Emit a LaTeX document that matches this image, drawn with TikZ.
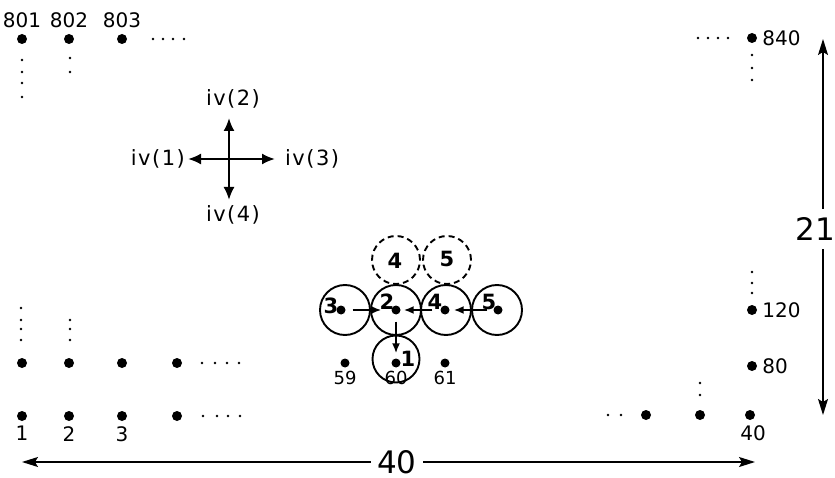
\documentclass[tikz,border=0pt]{standalone}
\usepackage{fontspec}
\setmainfont{DejaVu Sans}
\newfontfamily\ivfont[LetterSpace=7]{DejaVu Sans}
\usetikzlibrary{arrows.meta}
\usetikzlibrary{positioning}

\tikzset{
  site/.style={circle, fill=black, inner sep=0pt, minimum size=10pt},
  cell/.style={circle, draw=black, line width=1.9pt, inner sep=0pt, minimum size=50pt},
  ghost/.style={cell, minimum size=48pt, dash pattern=on 6pt off 4pt},
  num/.style={font=\fontsize{20}{22}\selectfont, inner sep=1pt},
  nabove/.style={label={[num, label distance=5pt]above:#1}},
  nbelow/.style={label={[num, label distance=4pt]below:#1}},
  nunder/.style={label={[num, font=\fontsize{18}{20}\selectfont, label distance=2pt]below:#1}},
  nright/.style={label={[num, label distance=4pt]right:#1}},
  cellnum/.style={font=\fontsize{21}{23}\selectfont\bfseries, inner sep=0pt},
  dir/.style={font=\fontsize{21}{23}\selectfont\ivfont, inner sep=0pt},
  dimlab/.style={font=\fontsize{31}{33}\selectfont, fill=white, inner xsep=6pt, inner ysep=0pt},
  tip/.style={line width=1.9pt, -{Latex[length=10pt, width=8pt]}},
  bigtip/.style={line width=2pt, -{Latex[length=13pt, width=11pt]}},
  dimline/.style={line width=1.3pt, {Stealth[length=16pt, width=10pt, inset=3pt]}-{Stealth[length=16pt, width=10pt, inset=3pt]}},
}

\begin{document}
\begin{tikzpicture}[x=1pt, y=-1pt]
\useasboundingbox (0,0) rectangle (835,478);

% lattice sites
\foreach \x/\n in {22/1, 69/2, 122/3} \node[site, nbelow=\n] (s\n) at (\x,416) {};
\node[site] (s4) at (177,416) {};
\node[site] (s38) at (646,415) {};
\node[site] (s39) at (700,415) {};
\node[site, label={[num, label distance=4pt, xshift=3pt]below:40}] (s40) at (750,415) {};
\foreach \x [count=\i from 41] in {22, 69, 122, 177} \node[site] (s\i) at (\x,363) {};
\foreach \x/\n in {345/59, 396/60, 445/61} \node[site, minimum size=9pt, nunder=\n] (s\n) at (\x,363) {};
\foreach \x/\n in {22/801, 69/802, 122/803} \node[site, nabove=\n] (s\n) at (\x,39) {};
\foreach \y/\n in {38/840, 310/120, 366/80} \node[site, nright=\n] (s\n) at (752,\y) {};

% dotted continuations
\foreach \x/\y in {153/39, 163/39, 173/39, 184/39, 22/60, 22/72, 22/83, 22/97, 70/58, 70/72,
  698/38, 708/38, 718/38, 728/38, 752/55, 752/68, 752/80, 752/272, 752/283, 752/293,
  700/383, 700/395, 608/415, 621/415, 202/363, 215/363, 227/363, 239/363,
  203/416, 217/416, 228/416, 240/416, 21/308, 21/320, 21/329, 21/340, 70/320, 70/329, 70/340}
  \fill (\x,\y) circle (1.4pt);

% particle and its neighbours
\foreach \x/\n in {341/99, 396/100, 445/101, 498/102} \node[site, minimum size=9pt] (s\n) at (\x,310) {};
\node[cell] (c3) at (345,310) {};
\node[cell] (c2) at (396,310) {};
\node[cell] (c4) at (446,310) {};
\node[cell] (c5) at (497,310) {};
\node[cell, minimum size=47pt] (c1) at (396,359) {};
\node[ghost] (g4) at (396,260) {};
\node[ghost] (g5) at (447,260) {};

\node[cellnum] (k3) at (331,306) {3};
\node[cellnum] (k2) at (387,302) {2};
\node[cellnum] (k4) at (435,302) {4};
\node[cellnum] (k5) at (489,302) {5};
\node[cellnum] (k1) at (408,359) {1};
\node[cellnum] (h4) at (395,261) {4};
\node[cellnum] (h5) at (447,259) {5};

\draw[tip, shorten <=7pt, shorten >=10pt] (s99) -- (s100);
\draw[tip, shorten <=8pt, shorten >=3pt] (s101) -- (s100);
\draw[tip, shorten <=6pt, shorten >=4pt] (s102) -- (s101);
\draw[tip, shorten <=7pt, shorten >=5pt] (s100) -- (s60);

% directions
\coordinate (o) at (229,159);
\node[dir, anchor=south] (iv2) at (233,108) {iv(2)};
\node[dir, anchor=east] (iv1) at (185,159) {iv(1)};
\node[dir, anchor=west] (iv3) at (285,159) {iv(3)};
\node[dir, anchor=north] (iv4) at (233,205) {iv(4)};
\draw[bigtip, shorten >=10pt] (o) -- (o |- iv2.south);
\draw[bigtip, shorten >=3pt] (o) -- (iv1);
\draw[bigtip, shorten >=10pt] (o) -- (iv3);
\draw[bigtip, shorten >=5pt] (o) -- (o |- iv4.north);

% extent of the lattice
\coordinate (wl) at (22,462);
\coordinate (wr) at (755,462);
\coordinate (ht) at (823,39);
\coordinate (hb) at (823,415);
\draw[dimline] (wl) -- (wr);
\draw[dimline] (hb) -- (ht);
\node[dimlab] (w) at (397,462) {40};
\node[dimlab, inner xsep=0pt, inner ysep=8pt] (h) at (815,229) {21};

\end{tikzpicture}
\end{document}
